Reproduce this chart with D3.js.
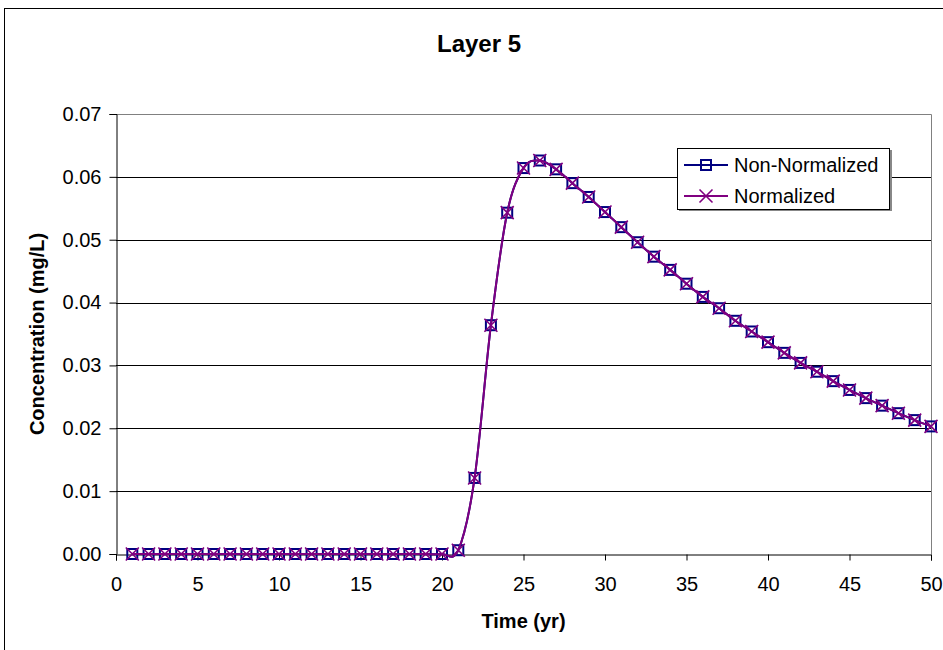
<!DOCTYPE html>
<html>
<head>
<meta charset="utf-8">
<script src="https://cdn.jsdelivr.net/npm/d3@7/dist/d3.min.js"></script>
<style>
  html, body { margin: 0; padding: 0; background: #fff; }
  svg { display: block; font-family: "Liberation Sans", Arial, sans-serif; }
</style>
</head>
<body>
<svg id="chart" width="943" height="650"></svg>
<script>
const title = "Layer 5";
const xLabel = "Time (yr)";
const yLabel = "Concentration (mg/L)";
const seriesNames = ["Non-Normalized", "Normalized"];

const timeYears = [1,2,3,4,5,6,7,8,9,10,11,12,13,14,15,16,17,18,19,20,
  21,22,23,24,25,26,27,28,29,30,31,32,33,34,35,36,37,38,39,40,
  41,42,43,44,45,46,47,48,49,50];

const nonNormalized = [0,0,0,0,0,0,0,0,0,0,0,0,0,0,0,0,0,0,0,0,
  0.0006,0.0121,0.0364,0.0543,0.0614,0.0626,0.0612,0.0590,0.0568,0.0544,
  0.0520,0.0496,0.0473,0.0452,0.0430,0.0409,0.0391,0.0371,0.0354,0.0337,
  0.0320,0.0304,0.0290,0.0275,0.0261,0.0248,0.0236,0.0224,0.0213,0.0203];

const normalized = [0,0,0,0,0,0,0,0,0,0,0,0,0,0,0,0,0,0,0,0,
  0.0006,0.0121,0.0364,0.0543,0.0614,0.0626,0.0612,0.0590,0.0568,0.0544,
  0.0520,0.0496,0.0473,0.0452,0.0430,0.0409,0.0391,0.0371,0.0354,0.0337,
  0.0320,0.0304,0.0290,0.0275,0.0261,0.0248,0.0236,0.0224,0.0213,0.0203];

const xTicks = [0,5,10,15,20,25,30,35,40,45,50];
const yTicks = [0,0.01,0.02,0.03,0.04,0.05,0.06,0.07];

(function () {
const svg = d3.select("#chart");
const pL = 116, pR = 931, pT = 114, pB = 554;

// outer chart border
svg.append("rect").attr("x", 4.5).attr("y", 8.5).attr("width", 960).attr("height", 660)
  .attr("fill", "#fff").attr("stroke", "#000").attr("stroke-width", 1);

const x = d3.scaleLinear().domain([0, 50]).range([pL, pR]);
const y = d3.scaleLinear().domain([0, 0.07]).range([pB, pT]);

// gridlines
svg.append("g").selectAll("line").data(yTicks.filter(d => d > 0 && d < 0.07)).join("line")
  .attr("x1", pL).attr("x2", pR)
  .attr("y1", d => Math.round(y(d)) + 0.5).attr("y2", d => Math.round(y(d)) + 0.5)
  .attr("stroke", "#000").attr("stroke-width", 1);

// plot-area frame (top & right in gray)
svg.append("path")
  .attr("d", `M${pL},${pT + 0.5}H${pR + 0.5}V${pB}`)
  .attr("fill", "none").attr("stroke", "#808080").attr("stroke-width", 1);

// axes
const xAxis = d3.axisBottom(x).tickValues(xTicks).tickSize(6).tickPadding(16).tickFormat(d3.format("d"));
const gx = svg.append("g").attr("transform", `translate(0,${pB + 0.5})`).call(xAxis);
gx.select(".domain").attr("stroke", "#000");
gx.selectAll(".tick line").attr("stroke", "#000");
gx.selectAll("text").attr("font-size", 20).attr("fill", "#000")
  .attr("font-family", "'Liberation Sans', Arial, sans-serif");

const yAxis = d3.axisLeft(y).tickValues(yTicks).tickSize(7).tickPadding(8).tickFormat(d3.format(".2f"));
const gy = svg.append("g").attr("transform", `translate(${pL + 0.5},0)`).call(yAxis);
gy.select(".domain").attr("stroke", "#000");
gy.selectAll(".tick line").attr("stroke", "#000");
gy.selectAll("text").attr("font-size", 20).attr("fill", "#000")
  .attr("font-family", "'Liberation Sans', Arial, sans-serif");

// titles
svg.append("text").attr("x", 479).attr("y", 52).attr("text-anchor", "middle")
  .attr("font-size", 24).attr("font-weight", "bold").text(title);
svg.append("text").attr("x", (pL + pR) / 2).attr("y", 628).attr("text-anchor", "middle")
  .attr("font-size", 20).attr("font-weight", "bold").text(xLabel);
svg.append("text").attr("transform", `translate(44,${(pT + pB) / 2}) rotate(-90)`)
  .attr("text-anchor", "middle").attr("font-size", 20).attr("font-weight", "bold").text(yLabel);

const navy = "#000080", purple = "#800080";
const line = d3.line().x(d => x(d[0])).y(d => y(d[1])).curve(d3.curveCatmullRom.alpha(0));

const s1 = timeYears.map((t, i) => [t, nonNormalized[i]]);
const s2 = timeYears.map((t, i) => [t, normalized[i]]);

const sq = 10, xm = 6.5;

svg.append("path").datum(s1).attr("d", line).attr("fill", "none")
  .attr("stroke", navy).attr("stroke-width", 2);
svg.append("g").selectAll("rect").data(s1).join("rect")
  .attr("x", d => x(d[0]) - sq / 2).attr("y", d => y(d[1]) - sq / 2)
  .attr("width", sq).attr("height", sq)
  .attr("fill", "none").attr("stroke", navy).attr("stroke-width", 2);

svg.append("path").datum(s2).attr("d", line).attr("fill", "none")
  .attr("stroke", purple).attr("stroke-width", 2);
svg.append("g").selectAll("path").data(s2).join("path")
  .attr("d", d => { const cx = x(d[0]), cy = y(d[1]);
    return `M${cx - xm},${cy - xm}L${cx + xm},${cy + xm}M${cx - xm},${cy + xm}L${cx + xm},${cy - xm}`; })
  .attr("fill", "none").attr("stroke", purple).attr("stroke-width", 1.6);

// legend
const lg = svg.append("g");
lg.append("rect").attr("x", 679).attr("y", 150).attr("width", 213).attr("height", 61).attr("fill", "#888");
lg.append("rect").attr("x", 677.5).attr("y", 148.5).attr("width", 212).attr("height", 61)
  .attr("fill", "#fff").attr("stroke", "#000").attr("stroke-width", 1);
const rows = [{name: seriesNames[0], color: navy, mark: "sq", yy: 165},
              {name: seriesNames[1], color: purple, mark: "x", yy: 196}];
rows.forEach(r => {
  lg.append("line").attr("x1", 684).attr("x2", 728).attr("y1", r.yy).attr("y2", r.yy)
    .attr("stroke", r.color).attr("stroke-width", 2);
  if (r.mark === "sq") {
    lg.append("rect").attr("x", 706 - sq / 2).attr("y", r.yy - sq / 2).attr("width", sq).attr("height", sq)
      .attr("fill", "none").attr("stroke", r.color).attr("stroke-width", 2);
  } else {
    lg.append("path").attr("d", `M${706 - xm},${r.yy - xm}L${706 + xm},${r.yy + xm}M${706 - xm},${r.yy + xm}L${706 + xm},${r.yy - xm}`)
      .attr("stroke", r.color).attr("stroke-width", 1.6);
  }
  lg.append("text").attr("x", 734).attr("y", r.yy + 7).attr("font-size", 20).text(r.name);
});
})();
</script>
</body>
</html>
